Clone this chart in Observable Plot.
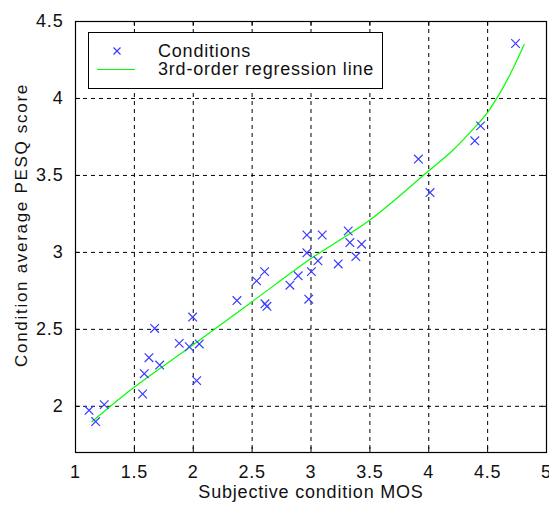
<!DOCTYPE html>
<html>
<head>
<meta charset="utf-8">
<script src="https://cdn.jsdelivr.net/npm/d3@7"></script>
<script src="https://cdn.jsdelivr.net/npm/@observablehq/plot@0.6"></script>
<style>
  body { margin: 0; background: #fff; }
  #wrap { position: relative; width: 549px; height: 507px; font-family: "Liberation Sans", Arial, sans-serif; }
  #legend { position: absolute; left: 88px; top: 32px; width: 293px; height: 55px; border: 1px solid #000; background: #fff; }
  .lrow { position: absolute; left: 0; height: 18px; width: 100%; }
  .ltext { position: absolute; left: 69px; top: 0; font-size: 18px; line-height: 18px; letter-spacing: 0.8px; color: #111; white-space: nowrap; }
</style>
</head>
<body>
<div id="wrap"></div>
<script>
// Subjective condition MOS (x) and condition average PESQ score (y)
const conditionMOS = [1.115, 1.171, 1.244, 1.570, 1.584, 1.624, 1.672, 1.715, 1.881, 1.966,
  1.995, 2.029, 2.051, 2.371, 2.538, 2.606, 2.609, 2.626, 2.821, 2.891,
  2.965, 2.965, 3.003, 2.981, 3.059, 3.095, 3.231, 3.316, 3.330, 3.381,
  3.430, 3.912, 4.011, 4.391, 4.440, 4.737];
const conditionPESQ = [1.974, 1.901, 2.011, 2.080, 2.212, 2.316, 2.506, 2.268, 2.409, 2.387,
  2.580, 2.167, 2.405, 2.687, 2.815, 2.875, 2.666, 2.650, 2.787, 2.848,
  3.113, 2.997, 2.875, 2.696, 2.945, 3.113, 2.925, 3.139, 3.064, 2.973,
  3.053, 3.606, 3.389, 3.725, 3.822, 4.357];

// 3rd-order regression line
const fitX = [1.14, 1.5, 2.0, 2.5, 3.0, 3.5, 4.0, 4.2, 4.4, 4.5, 4.6, 4.7, 4.81];
const fitY = [1.90, 2.125, 2.40, 2.68, 2.96, 3.21, 3.53, 3.66, 3.82, 3.91, 4.03, 4.17, 4.35];

const xTicks = [1, 1.5, 2, 2.5, 3, 3.5, 4, 4.5, 5];
const yTicks = [2, 2.5, 3, 3.5, 4, 4.5];

const legendLabels = ["Conditions", "3rd-order regression line"];
const xLabel = "Subjective condition MOS";
const yLabel = "Condition average PESQ score";

const points = conditionMOS.map((x, i) => ({x, y: conditionPESQ[i]}));
const fit = fitX.map((x, i) => ({x, y: fitY[i]}));

const W = 549, H = 507, ML = 75, MR = 3, MT = 21, MB = 55;
const innerH = H - MT - MB, innerW = W - ML - MR;

const chart = Plot.plot({
  width: W, height: H,
  marginLeft: ML, marginRight: MR, marginTop: MT, marginBottom: MB,
  style: {fontFamily: "'Liberation Sans', Arial, sans-serif", fontSize: "18px", color: "#111", background: "#fff", letterSpacing: "0.8px", overflow: "visible"},
  x: {domain: [1, 5]},
  y: {domain: [1.7, 4.5]},
  marks: [
    Plot.gridX(xTicks, {stroke: "#000", strokeOpacity: 1, strokeDasharray: "4,4"}),
    Plot.gridY(yTicks, {stroke: "#000", strokeOpacity: 1, strokeDasharray: "4,4"}),
    Plot.ruleX(xTicks, {stroke: "#000", insetBottom: innerH - 5}),
    Plot.ruleX(xTicks, {stroke: "#000", insetTop: innerH - 5}),
    Plot.ruleY(yTicks, {stroke: "#000", insetRight: innerW - 5}),
    Plot.ruleY(yTicks, {stroke: "#000", insetLeft: innerW - 5}),
    Plot.frame({stroke: "#000", strokeWidth: 1.2}),
    Plot.line(fit, {x: "x", y: "y", stroke: "#00ff00", strokeWidth: 1.2, curve: "catmull-rom"}),
    Plot.dot(points, {x: "x", y: "y", symbol: "times", r: 4, stroke: "#3a3aff", strokeWidth: 1.2}),
    Plot.axisX(xTicks, {tickSize: 0, tickPadding: 13, tickFormat: d => String(d), label: null, fontSize: 18}),
    Plot.axisY(yTicks, {tickSize: 0, tickPadding: 12, tickFormat: d => String(d), label: null, fontSize: 18}),
    Plot.text([xLabel], {frameAnchor: "bottom", dy: 45, text: d => d, fontSize: 18, fill: "#111"}),
    Plot.text([yLabel], {frameAnchor: "left", textAnchor: "middle", dx: -54, dy: -12, rotate: -90, text: d => d, fontSize: 17, fill: "#111"})
  ]
});

const wrap = document.getElementById("wrap");
wrap.appendChild(chart);

// wider letter spacing for the rotated y label, as in the reference
d3.select(chart).selectAll("text").filter(function() { return this.textContent === yLabel; })
  .style("letter-spacing", "1.7px");

const legend = document.createElement("div");
legend.id = "legend";
legend.innerHTML = `
  <div class="lrow" style="top:9px">
    <svg width="60" height="18" style="position:absolute;left:0;top:0"><path d="M24.5,5.5 L31.5,12.5 M31.5,5.5 L24.5,12.5" stroke="#3a3aff" stroke-width="1.2"/></svg>
    <div class="ltext">${legendLabels[0]}</div>
  </div>
  <div class="lrow" style="top:27px">
    <svg width="60" height="18" style="position:absolute;left:0;top:0"><line x1="8" x2="46" y1="9.5" y2="9.5" stroke="#00ff00" stroke-width="1.2"/></svg>
    <div class="ltext">${legendLabels[1]}</div>
  </div>`;
wrap.appendChild(legend);
</script>
</body>
</html>
